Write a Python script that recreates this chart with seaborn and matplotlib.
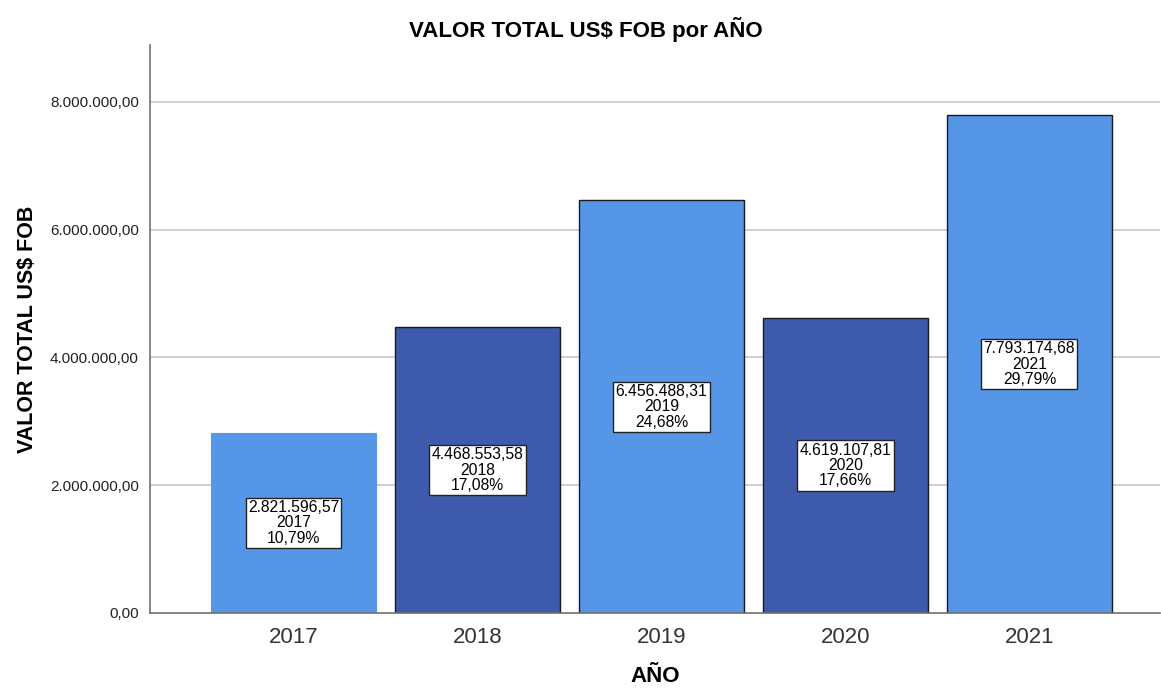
import numpy as np
import pandas as pd
import matplotlib
matplotlib.use("Agg")
import matplotlib.pyplot as plt
import seaborn as sns

years = ["2017", "2018", "2019", "2020", "2021"]
valores = [2821596.57, 4468553.58, 6456488.31, 4619107.81, 7793174.68]
etiquetas = ["2.821.596,57", "4.468.553,58", "6.456.488,31", "4.619.107,81", "7.793.174,68"]
porcentajes = ["10,79%", "17,08%", "24,68%", "17,66%", "29,79%"]
yticks = [0, 2000000, 4000000, 6000000, 8000000]
ytick_labels = ["0,00", "2.000.000,00", "4.000.000,00", "6.000.000,00", "8.000.000,00"]

light = "#5596e6"
dark = "#3e5aac"
colores = [light, dark, light, dark, light]

sns.set_style("white")
plt.rcParams["font.family"] = ["Liberation Sans", "DejaVu Sans"]
plt.rcParams["text.color"] = "black"

df = pd.DataFrame({"year": years, "valor": valores})

fig = plt.figure(figsize=(11.61, 6.89), dpi=100)
ax = fig.add_axes([150 / 1161, 1 - 613 / 689, 1010 / 1161, 568 / 689])

ax.set_axisbelow(True)
for t in yticks[1:]:
    ax.axhline(t, color="#c8c8c8", lw=1.2, zorder=0)

sns.barplot(data=df, x="year", y="valor", hue="year", palette=colores,
            saturation=1, legend=False, width=0.897, ax=ax, zorder=2)

for i, p in enumerate(ax.patches):
    if i == 0:
        p.set_edgecolor(light)
        p.set_linewidth(0.8)
    else:
        p.set_edgecolor("#1a1a1a")
        p.set_linewidth(1.0)

for i, v in enumerate(valores):
    ax.text(i, v / 2, f"{etiquetas[i]}\n{years[i]}\n{porcentajes[i]}",
            ha="center", va="center", fontsize=11.3, linespacing=1.03, zorder=4,
            color="black",
            bbox=dict(boxstyle="square,pad=0.15", facecolor="white",
                      edgecolor="#222222", linewidth=1))

ax.set_xlim(-0.78, 4.71)
ax.set_ylim(0, 8.89e6)
ax.set_yticks(yticks)
ax.set_yticklabels(ytick_labels, fontsize=11, color="#222222")
ax.tick_params(axis="y", length=6, width=1, color="#999999", pad=2)
ax.tick_params(axis="x", labelsize=16, length=0, pad=10, labelcolor="#333333")

for s in ["top", "right"]:
    ax.spines[s].set_visible(False)
ax.spines["left"].set_color("#707070")
ax.spines["bottom"].set_color("#707070")
ax.spines["left"].set_linewidth(1.2)
ax.spines["bottom"].set_linewidth(1.2)

ax.set_xlabel("AÑO", fontsize=16, fontweight="bold", labelpad=13, color="black")
ax.set_ylabel("VALOR TOTAL US$ FOB", fontsize=15.5, fontweight="bold", labelpad=9,
              color="black")
fig.text(586 / 1161, 1 - 30 / 689, "VALOR TOTAL US$ FOB por AÑO",
         ha="center", va="center", fontsize=16, fontweight="bold", color="black")

fig.savefig("out.png", dpi=100)
